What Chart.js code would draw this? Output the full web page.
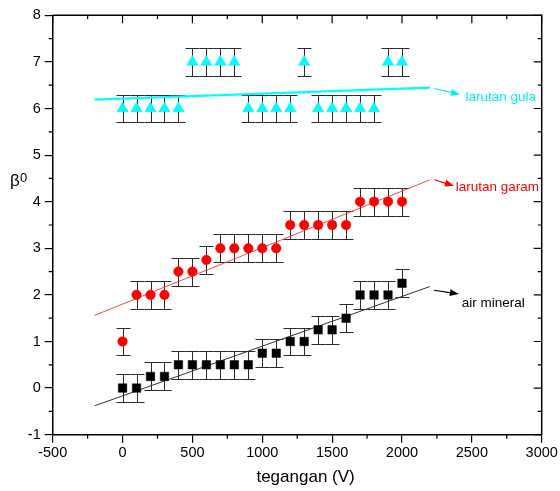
<!DOCTYPE html>
<html>
<head>
<meta charset="utf-8">
<script src="https://cdn.jsdelivr.net/npm/chart.js@4.4.0/dist/chart.umd.min.js"></script>
<style>
  html, body { margin: 0; padding: 0; background: #fff; }
  #wrap { width: 560px; height: 491px; }
</style>
</head>
<body>
<div id="wrap"><canvas id="betaChart"></canvas></div>
<script>
// tegangan (V)
const voltages = [0, 100, 200, 300, 400, 500, 600, 700, 800, 900, 1000,
  1100, 1200, 1300, 1400, 1500, 1600, 1700, 1800, 1900, 2000];

// beta0 per series
const airMineral = [0, 0, 0.25, 0.25, 0.5, 0.5, 0.5, 0.5, 0.5, 0.5, 0.75,
  0.75, 1, 1, 1.25, 1.25, 1.5, 2, 2, 2, 2.25];
const larutanGaram = [1, 2, 2, 2, 2.5, 2.5, 2.75, 3, 3, 3, 3,
  3, 3.5, 3.5, 3.5, 3.5, 3.5, 4, 4, 4, 4];
const larutanGula = [6, 6, 6, 6, 6, 7, 7, 7, 7, 6, 6,
  6, 6, 7, 6, 6, 6, 6, 6, 7, 7];
const errBar = 0.3;

// linear fits (end points)
const fitX = [-200, 2200];
const fitAir = [-0.38, 2.18];
const fitGaram = [1.56, 4.47];
const fitGula = [6.19, 6.45];

// labels with arrows
const noteText = ["larutan gula", "larutan garam", "air mineral"];
const noteColor = ["#00f0f0", "#ff0000", "#000000"];
const noteAt = [[2455, 6.25], [2384, 4.32], [2427, 1.82]];
const arrowFrom = [[2233, 6.43], [2233, 4.47], [2230, 2.10]];
const arrowTo = [[2414, 6.30], [2371, 4.34], [2407, 2.02]];

const FONT = "'Liberation Sans', Arial, sans-serif";

function pts(ys) {
  return voltages.map((x, i) => ({ x: x, y: ys[i] }));
}
function line(ys) {
  return fitX.map((x, i) => ({ x: x, y: ys[i] }));
}

const errorBars = {
  id: "errorBars",
  beforeDatasetsDraw(chart) {
    const ctx = chart.ctx;
    const xs = chart.scales.x, ys = chart.scales.y;
    ctx.save();
    ctx.strokeStyle = "#2a2a2a";
    ctx.lineWidth = 1;
    chart.data.datasets.forEach(ds => {
      if (!ds.errors) return;
      ds.data.forEach(p => {
        const px = Math.round(xs.getPixelForValue(p.x)) + 0.5;
        const top = Math.round(ys.getPixelForValue(p.y + errBar)) + 0.5;
        const bot = Math.round(ys.getPixelForValue(p.y - errBar)) + 0.5;
        ctx.beginPath();
        ctx.moveTo(px, top); ctx.lineTo(px, bot);
        ctx.moveTo(px - 7, top); ctx.lineTo(px + 7, top);
        ctx.moveTo(px - 7, bot); ctx.lineTo(px + 7, bot);
        ctx.stroke();
      });
    });
    ctx.restore();
  }
};

const frame = {
  id: "frame",
  afterDraw(chart) {
    const ctx = chart.ctx;
    const a = chart.chartArea;
    const xs = chart.scales.x, ys = chart.scales.y;
    ctx.save();
    ctx.strokeStyle = "#000";
    // top and right border
    ctx.lineWidth = 1.5;
    ctx.beginPath();
    ctx.moveTo(a.left, a.top); ctx.lineTo(a.right, a.top); ctx.lineTo(a.right, a.bottom);
    ctx.stroke();
    ctx.lineWidth = 1.2;
    ctx.beginPath();
    for (let v = -500; v <= 3000; v += 250) {
      const px = xs.getPixelForValue(v);
      const major = v % 500 === 0;
      if (!major) {
        ctx.moveTo(px, a.bottom); ctx.lineTo(px, a.bottom + 4);
        ctx.moveTo(px, a.top); ctx.lineTo(px, a.top + 4);
      } else {
        ctx.moveTo(px, a.top); ctx.lineTo(px, a.top + 8);
      }
    }
    for (let v = -1; v <= 8; v += 0.5) {
      const py = ys.getPixelForValue(v);
      const major = Number.isInteger(v);
      if (!major) {
        ctx.moveTo(a.left, py); ctx.lineTo(a.left - 4, py);
        ctx.moveTo(a.right, py); ctx.lineTo(a.right - 4, py);
      } else {
        ctx.moveTo(a.right, py); ctx.lineTo(a.right - 8, py);
      }
    }
    ctx.stroke();

    // arrows and labels
    noteText.forEach((t, i) => {
      const x1 = xs.getPixelForValue(arrowFrom[i][0]), y1 = ys.getPixelForValue(arrowFrom[i][1]);
      const x2 = xs.getPixelForValue(arrowTo[i][0]), y2 = ys.getPixelForValue(arrowTo[i][1]);
      const ang = Math.atan2(y2 - y1, x2 - x1);
      ctx.strokeStyle = noteColor[i];
      ctx.fillStyle = noteColor[i];
      ctx.lineWidth = 1.2;
      ctx.beginPath();
      ctx.moveTo(x1, y1);
      ctx.lineTo(x2 - 6 * Math.cos(ang), y2 - 6 * Math.sin(ang));
      ctx.stroke();
      ctx.beginPath();
      ctx.moveTo(x2, y2);
      ctx.lineTo(x2 - 9 * Math.cos(ang) + 3.5 * Math.sin(ang), y2 - 9 * Math.sin(ang) - 3.5 * Math.cos(ang));
      ctx.lineTo(x2 - 9 * Math.cos(ang) - 3.5 * Math.sin(ang), y2 - 9 * Math.sin(ang) + 3.5 * Math.cos(ang));
      ctx.closePath();
      ctx.fill();
      ctx.font = "13.5px " + FONT;
      ctx.textAlign = "left";
      ctx.textBaseline = "middle";
      ctx.fillText(t, xs.getPixelForValue(noteAt[i][0]), ys.getPixelForValue(noteAt[i][1]));
    });

    // axis titles
    ctx.fillStyle = "#000";
    ctx.font = "17px " + FONT;
    ctx.textAlign = "center";
    ctx.textBaseline = "middle";
    ctx.fillText("tegangan (V)", xs.getPixelForValue(1310), 477);
    ctx.textAlign = "left";
    ctx.textBaseline = "alphabetic";
    ctx.font = "17px " + FONT;
    ctx.fillText("β", 10, 186);
    ctx.font = "13px " + FONT;
    ctx.fillText("0", 20, 182);
    ctx.restore();
  }
};

new Chart(document.getElementById("betaChart").getContext("2d"), {
  type: "scatter",
  data: {
    datasets: [
      {
        label: "larutan gula",
        data: pts(larutanGula),
        errors: true,
        pointStyle: "triangle",
        pointRadius: 6.5,
        backgroundColor: "#00ffff",
        borderColor: "#00e5ee",
        borderWidth: 0.5,
      },
      {
        label: "larutan garam",
        data: pts(larutanGaram),
        errors: true,
        pointStyle: "circle",
        pointRadius: 4.8,
        backgroundColor: "#ff0000",
        borderColor: "#ff0000",
        borderWidth: 0.5,
      },
      {
        label: "air mineral",
        data: pts(airMineral),
        errors: true,
        pointStyle: "rect",
        pointRadius: 6,
        backgroundColor: "#000000",
        borderColor: "#000000",
        borderWidth: 0.5,
      },
      {
        type: "line",
        data: line(fitGula),
        borderColor: "#00ffff",
        borderWidth: 2.2,
        pointRadius: 0,
        fill: false,
      },
      {
        type: "line",
        data: line(fitGaram),
        borderColor: "rgba(255,40,40,0.85)",
        borderWidth: 1,
        pointRadius: 0,
        fill: false,
      },
      {
        type: "line",
        data: line(fitAir),
        borderColor: "#333333",
        borderWidth: 1,
        pointRadius: 0,
        fill: false,
      },
    ],
  },
  options: {
    responsive: true,
    maintainAspectRatio: false,
    animation: false,
    layout: { padding: { top: 15.3, right: 18.3, left: 0, bottom: 0 } },
    plugins: { legend: { display: false }, tooltip: { enabled: false } },
    scales: {
      x: {
        type: "linear",
        min: -500,
        max: 3000,
        afterFit: s => { s.height = 56.3; },
        ticks: { stepSize: 500, color: "#000", padding: 2, maxRotation: 0, autoSkip: false,
          callback: v => String(v),
          font: { family: FONT, size: 14.5 } },
        grid: { display: true, drawOnChartArea: false, drawTicks: true, tickLength: 8,
          color: "#000", lineWidth: 1.2 },
        border: { display: true, color: "#000", width: 1.5 },
      },
      y: {
        min: -1,
        max: 8,
        afterFit: s => { s.width = 52.7; },
        ticks: { stepSize: 1, color: "#000", padding: 4,
          callback: v => String(v),
          font: { family: FONT, size: 14.5 } },
        grid: { display: true, drawOnChartArea: false, drawTicks: true, tickLength: 8,
          color: "#000", lineWidth: 1.2 },
        border: { display: true, color: "#000", width: 1.5 },
      },
    },
  },
  plugins: [errorBars, frame],
});
</script>
</body>
</html>
